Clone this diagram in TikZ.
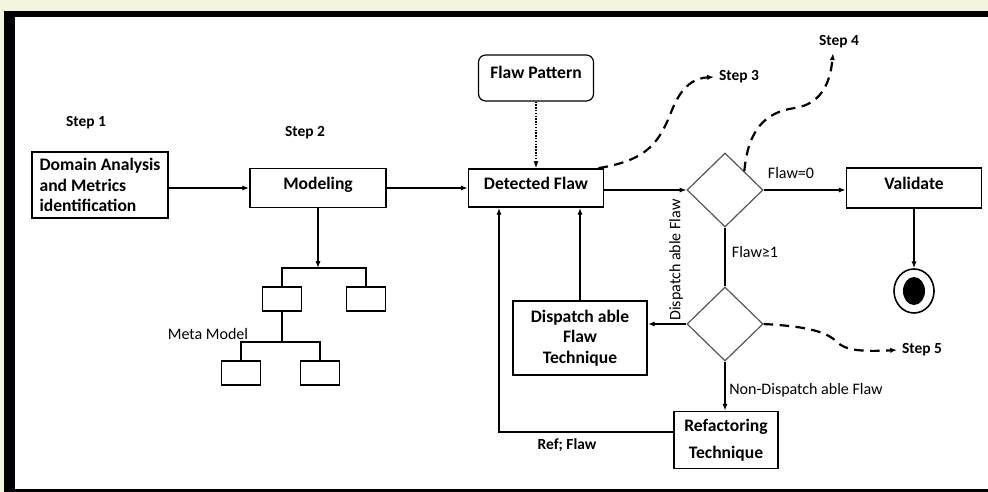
\documentclass[tikz,border=0pt]{standalone}
\usepackage{fontspec}
\setmainfont{Carlito}
\usepackage{tikz}
\usetikzlibrary{arrows.meta}
\usetikzlibrary{shapes.geometric}

\definecolor{pagebeige}{RGB}{245,245,222}
\definecolor{diamondgray}{RGB}{85,85,85}

\tikzset{
  box/.style={draw, line width=0.45mm, font=\bfseries\fontsize{12.5}{14.5}\selectfont, align=center, inner sep=0pt},
  oneline/.style={text height=3.2mm, text depth=2.4mm},
  decision/.style={diamond, draw=diamondgray, line width=0.3mm, minimum width=19mm, minimum height=18.5mm, inner sep=0pt},
  leaf/.style={draw, line width=0.35mm, minimum width=9.75mm, minimum height=6mm, inner sep=0pt},
  arr/.style={-{Latex[length=1.7mm,width=1.3mm]}, line width=0.35mm},
  stepline/.style={-{Latex[length=1.7mm,width=1.3mm]}, line width=0.55mm, dash pattern=on 2.4mm off 1.6mm},
  steplabel/.style={font=\bfseries\fontsize{11}{13}\selectfont}
}

\begin{document}
\begin{tikzpicture}[x=0.25mm, y=-0.25mm, font=\fontsize{11.4}{14}\selectfont]
    % page and frame
    \fill[pagebeige] (0,0) rectangle (988,492);
    \fill[black] (4,11) rectangle (988,492);
    \fill[white] (15,17) rectangle (988,489);

    % main boxes
    \node[box, align=left, minimum width=34mm, minimum height=16.5mm] (domain) at (100,185) {Domain Analysis\\and Metrics\\identification};
    \node[box, oneline, minimum width=34mm, minimum height=9.75mm] (modeling) at (318,188) {Modeling};
    \node[box, oneline, minimum width=33.75mm, minimum height=9.5mm] (detected) at (536,188) {Detected Flaw};
    \node[box, line width=0.3mm, rounded corners=1.8mm, text height=3.2mm, text depth=3mm, minimum width=28.75mm, minimum height=11.5mm] (pattern) at (536,78) {Flaw Pattern};
    \node[box, oneline, minimum width=33.75mm, minimum height=10mm] (validate) at (914,188) {Validate};
    \node[box, minimum width=33.5mm, minimum height=18.5mm] (dispatch) at (580,338) {Dispatch able\\Flaw\\Technique};
    \node[box, minimum width=26mm, minimum height=14.25mm] (refactor) at (726,440) {Refactoring\\[5pt]Technique};

    % decisions and final state
    \node[decision] (dec1) at (725,190) {};
    \node[decision] (dec2) at (725,324) {};
    \node[draw, ellipse, line width=0.4mm, minimum width=10mm, minimum height=11mm, inner sep=0pt] (final) at (914,291) {};
    \node[fill, ellipse, minimum width=5.5mm, minimum height=7mm, inner sep=0pt] (finaldot) at (final) {};

    % meta model tree
    \foreach \name/\x/\y in {leafA/282/299, leafB/366/299, leafC/241/373, leafD/320/373}
        \node[leaf] (\name) at (\x,\y) {};
    \coordinate (treetop) at (318,268);
    \coordinate (treemid) at (282,342);
    \draw[arr] (modeling.south) -- (treetop);
    \draw[line width=0.35mm] (leafA.north) |- (treetop) -| (leafB.north);
    \draw[line width=0.35mm] (leafA.south) -- (treemid);
    \draw[line width=0.35mm] (leafC.north) |- (treemid) -| (leafD.north);

    % labels
    \node[steplabel] (step1) at (86,123) {Step 1};
    \node[steplabel] (step2) at (305,133) {Step 2};
    \node[steplabel] (step3) at (739,77) {Step 3};
    \node[steplabel] (step4) at (839,42) {Step 4};
    \node[steplabel] (step5) at (922,350) {Step 5};
    \node (flawzero) at (791,173) {Flaw=0};
    \node (flawmany) at (755,252) {Flaw≥1};
    \node[rotate=90] (dispatchlbl) at (676,260) {Dispatch able Flaw};
    \node (nondispatch) at (806,390) {Non-Dispatch able Flaw};
    \node[font=\bfseries\fontsize{11}{13}\selectfont] (reflbl) at (567,445) {Ref; Flaw};
    \node (metamodel) at (208,334) {Meta Model};

    % flow
    \draw[arr] (domain.east |- modeling.west) -- (modeling.west);
    \draw[arr] (modeling) -- (detected);
    \draw[arr, densely dotted, line width=0.3mm] (pattern) -- (detected);
    \draw[arr] (detected.east |- dec1.west) -- (dec1.west);
    \draw[arr] (dec1.east) -- (dec1.east -| validate.west);
    \draw[arr] (validate) -- (final);
    \draw[line width=0.35mm] (dec1.south) -- (dec2.north);
    \draw[arr] (dec2.west) -- (dec2.west -| dispatch.east);
    \draw[arr] (dispatch.north) -- (dispatch.north |- detected.south);
    \draw[arr] (dec2.south) -- (dec2.south |- refactor.north);
    \coordinate (refturn) at (499,432);
    \draw[arr] (refactor.west |- refturn) -- (refturn) -- (refturn |- detected.south);

    % step curves
    \draw[stepline] ([xshift=-1.5mm]detected.north east) .. controls (650,160) and (660,140) .. (672,110) .. controls (682,85) and (695,78) .. (step3.west);
    \draw[stepline] (dec1.north east) .. controls (748,130) and (765,112) .. (795,108) .. controls (820,104) and (830,85) .. ([xshift=-1.5mm]step4.south);
    \draw[stepline] (dec2.east) .. controls (800,326) and (825,330) .. (837,342) .. controls (845,350) and (860,352) .. (step5.west);
\end{tikzpicture}
\end{document}
